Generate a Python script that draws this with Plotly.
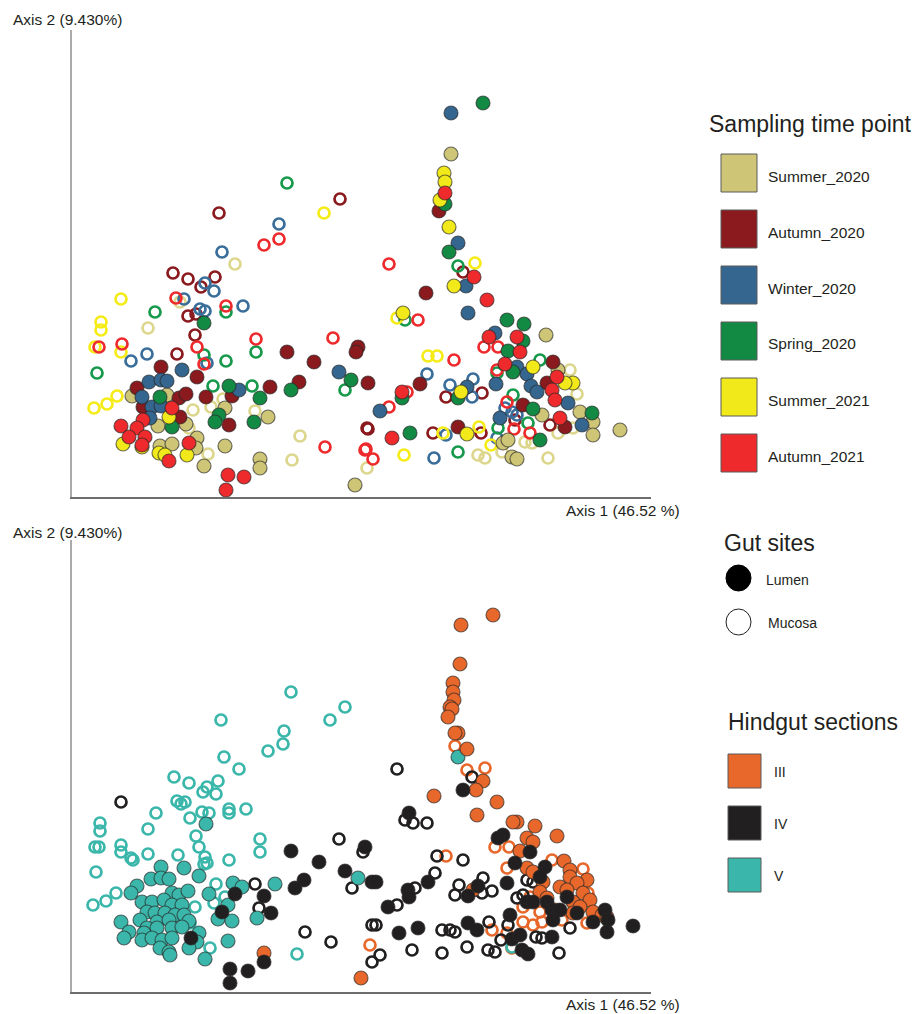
import plotly.graph_objects as go

W, H = 917, 1014

# ---------------- Data (PCoA scores, arbitrary units) ----------------
# Top panel: sampling time points; filled = Lumen, open = Mucosa
seasons = ["Summer_2020", "Autumn_2020", "Winter_2020", "Spring_2020", "Summer_2021", "Autumn_2021"]
season_colors = ["#CEC676", "#8A1A1D", "#35668F", "#128A44", "#F1E91A", "#EE2A2C"]
season_open_colors = ["#DDD78E", "#8A1A1D", "#3A6E9A", "#17994B", "#F5EB17", "#EE2A2C"]

summer2020_mucosa = [(76,169),(121,87),(139,90),(151,98),(183,86),(228,61),(136,43),(220,37),(295,29),(117,69),
                     (108,195),(163,233),(406,42),(413,39),(430,45),(453,55),(460,54),(476,39),(498,127),(505,103),
                     (486,64),(501,69)]
summer2020_lumen = [(379,343),(474,162),(486,127),(470,82),(508,85),(521,75),(521,62),(548,67),(431,54),(436,57),
                    (440,40),(445,38),(283,12),(196,80),(153,89),(60,101),(95,102),(86,71),(114,73),(88,51),
                    (100,53),(125,59),(124,49),(132,31),(153,51),(188,38),(188,29)]
autumn2020_mucosa = [(268,298),(147,284),(101,224),(116,218),(143,220),(129,210),(116,181),(124,183),(123,162),
                     (105,143),(295,69),(391,225),(374,100),(410,104),(296,68),(361,64),(409,64),(443,77),(478,72)]
autumn2020_lumen = [(215,145),(242,135),(286,150),(284,145),(296,114),(227,115),(198,110),(89,130),(125,120),
                    (65,109),(107,99),(114,103),(134,100),(160,101),(157,72),(71,90),(108,80),(367,286),(354,204),
                    (481,135),(475,114),(348,113),(451,92),(493,70),(386,70)]
winter2020_mucosa = [(207,273),(150,245),(133,214),(142,206),(112,198),(128,188),(133,186),(171,191),(75,143),
                     (59,136),(135,134),(355,123),(378,112),(401,118),(400,100),(374,62),(362,39),(433,89),(440,85),
                     (445,82),(425,59)]
winter2020_lumen = [(267,125),(110,127),(77,115),(89,117),(95,116),(70,100),(167,107),(80,90),(89,91),(78,79),
                    (379,384),(386,254),(394,211),(396,184),(423,164),(445,130),(455,123),(459,111),(465,105),
                    (496,94),(510,72),(428,79),(424,113),(308,86),(395,110)]
spring2020_mucosa = [(215,314),(83,185),(154,185),(132,142),(184,145),(154,136),(25,124),(141,111),(180,111),
                     (273,107),(386,231),(333,177),(425,124),(468,137),(441,102),(456,74),(426,69),(386,45)]
spring2020_lumen = [(132,174),(279,117),(219,107),(188,99),(182,75),(88,100),(157,111),(147,82),(143,75),(100,70),
                    (411,394),(373,293),(377,245),(452,173),(451,156),(436,146),(441,125),(461,88),(520,84),
                    (468,57),(330,99),(338,64),(386,99),(435,177)]
summer2021_mucosa = [(252,284),(49,198),(29,175),(29,167),(23,150),(49,145),(22,89),(35,93),(45,101),(403,234),
                     (325,179),(356,141),(365,141),(371,64),(407,70),(332,42),(419,52)]
summer2021_lumen = [(372,324),(373,315),(368,297),(377,270),(382,211),(331,184),(461,130),(501,114),(493,114),
                    (389,105),(395,63),(97,80),(51,53),(87,44),(93,42),(115,42),(70,50)]
autumn2021_mucosa = [(207,258),(192,252),(104,199),(154,191),(184,158),(261,159),(50,153),(27,150),(125,150),
                     (132,133),(253,50),(293,47),(317,233),(346,177),(382,137),(335,105),(317,90),(294,48),(301,38),
                     (412,150),(426,150),(425,127),(435,95),(442,68),(458,64)]
autumn2021_lumen = [(373,304),(402,220),(415,197),(417,160),(445,160),(448,145),(433,133),(485,120),(480,107),
                    (483,97),(488,79),(330,105),(320,59),(100,89),(71,77),(49,71),(65,69),(57,60),(73,60),(70,52),
                    (117,54),(97,36),(156,22),(172,20),(154,7)]

season_mucosa = [summer2020_mucosa, autumn2020_mucosa, winter2020_mucosa, spring2020_mucosa, summer2021_mucosa, autumn2021_mucosa]
season_lumen = [summer2020_lumen, autumn2020_lumen, winter2020_lumen, spring2020_lumen, summer2021_lumen, autumn2021_lumen]

# Bottom panel: hindgut sections; filled = Lumen, open = Mucosa
sections = ["III", "IV", "V"]
section_colors = ["#E8672A", "#221F20", "#3AB7AA"]

sectionV_mucosa = [(219,300),(273,285),(258,272),(149,272),(212,261),(211,248),(196,241),(152,235),(167,223),
                   (102,215),(117,209),(146,211),(135,205),(131,200),(144,198),(105,191),(113,190),(109,188),
                   (84,179),(118,174),(130,180),(137,179),(157,183),(157,179),(174,183),(28,169),(28,161),(76,163),
                   (124,156),(188,153),(188,140),(23,145),(27,145),(49,147),(49,140),(59,134),(61,132),(76,138),
                   (106,137),(127,145),(133,135),(135,129),(132,128),(157,132),(24,120),(144,108),(21,87),(34,91),
                   (44,99),(153,95),(142,89),(123,85),(118,69),(138,44),(225,38),(440,45)]
sectionV_lumen = [(134,168),(89,125),(112,124),(127,116),(79,113),(89,114),(97,113),(65,106),(59,99),(161,109),
                  (170,105),(203,108),(286,114),(100,99),(107,97),(116,101),(137,98),(70,90),(80,90),(92,92),
                  (100,87),(110,87),(156,87),(75,80),(83,79),(93,79),(103,77),(112,77),(146,73),(160,71),(185,74),
                  (49,70),(68,72),(85,70),(97,72),(117,71),(75,64),(85,64),(100,64),(110,65),(57,60),(72,59),
                  (52,54),(70,52),(80,54),(90,52),(100,54),(127,59),(125,50),(117,44),(88,44),(97,40),(98,37),
                  (156,51),(133,33),(386,235)]
sectionIV_mucosa = [(49,190),(267,153),(291,140),(183,108),(280,104),(187,84),(233,60),(259,50),(300,67),(300,30),
                    (325,223),(400,215),(333,172),(341,169),(355,169),(365,136),(391,132),(363,119),(387,107),
                    (411,114),(383,97),(410,99),(420,101),(325,87),(343,104),(455,112),(461,110),(445,94),(451,97),
                    (304,67),(370,62),(378,62),(383,60),(417,70),(436,67),(429,52),(464,55),(470,54),(498,64),
                    (340,42),(370,39),(395,45),(416,42),(423,40),(487,39),(308,37)]
sectionIV_lumen = [(219,141),(247,130),(232,112),(223,104),(273,121),(293,145),(163,98),(192,96),(199,79),(150,80),
                   (119,54),(192,30),(158,23),(176,21),(158,9),(300,110),(337,179),(391,202),(304,110),(356,110),
                   (336,102),(337,95),(316,85),(327,59),(346,64),(396,69),(405,62),(406,106),(396,96),(431,157),
                   (426,154),(458,140),(443,129),(435,109),(473,125),(468,115),(455,90),(461,90),(475,90),(480,82),
                   (488,82),(495,95),(438,77),(481,72),(505,79),(533,82),(521,70),(536,72),(535,60),(561,66),
                   (440,53),(448,57),(480,55),(450,42),(456,38)]
sectionIII_mucosa = [(298,47),(383,246),(395,222),(413,224),(423,145),(437,145),(374,136),(480,132),(435,124),
                     (511,123),(516,99),(458,95),(451,85),(468,80),(470,70),(461,67),(451,70),(490,72),(515,69),
                     (420,62),(435,59),(440,44)]
sectionIII_lumen = [(192,39),(289,14),(421,377),(389,367),(388,328),(381,309),(381,300),(382,292),(378,285),
                    (380,283),(376,275),(386,259),(383,259),(395,243),(411,211),(404,202),(362,196),(425,190),
                    (405,177),(445,170),(441,170),(463,166),(485,156),(455,154),(461,150),(448,141),(455,124),
                    (461,120),(492,131),(498,122),(498,115),(515,112),(488,105),(505,109),(495,102),(471,110),
                    (511,99),(518,92),(501,90),(508,85),(521,80),(501,79),(530,77),(535,75),(401,102),(468,100),
                    (475,94),(483,82)]

section_mucosa = [sectionIII_mucosa, sectionIV_mucosa, sectionV_mucosa]
section_lumen = [sectionIII_lumen, sectionIV_lumen, sectionV_lumen]

# ---------------- Figure ----------------
fig = go.Figure()

FILLED_SIZE = 14
OPEN_SIZE = 11
EDGE = "rgba(40,40,40,0.65)"


def add_open(pts, color, name, xa, ya):
    fig.add_trace(go.Scatter(
        x=[p[0] for p in pts], y=[p[1] for p in pts], mode="markers", name=name,
        xaxis=xa, yaxis=ya, showlegend=False, hoverinfo="skip",
        marker=dict(symbol="circle-open", size=OPEN_SIZE, color=color, line=dict(width=2.7, color=color))))


def add_filled(pts, color, name, xa, ya):
    fig.add_trace(go.Scatter(
        x=[p[0] for p in pts], y=[p[1] for p in pts], mode="markers", name=name,
        xaxis=xa, yaxis=ya, showlegend=False, hoverinfo="skip",
        marker=dict(symbol="circle", size=FILLED_SIZE, color=color, line=dict(width=1.2, color=EDGE))))


for pts, c, n in zip(season_mucosa, season_open_colors, seasons):
    add_open(pts, c, n + " Mucosa", "x", "y")
for pts, c, n in zip(season_lumen, season_colors, seasons):
    add_filled(pts, c, n + " Lumen", "x", "y")

for pts, c, n in zip(section_mucosa, section_colors, sections):
    add_open(pts, c, n + " Mucosa", "x2", "y2")
for idx in [2, 0, 1]:
    add_filled(section_lumen[idx], section_colors[idx], sections[idx] + " Lumen", "x2", "y2")


def px2x(px):
    return px / W


def px2y(py):
    return 1 - py / H


FONT = "Arial, Liberation Sans, sans-serif"

ax_common = dict(showgrid=False, zeroline=False, showticklabels=False, ticks="")
fig.update_layout(
    width=W, height=H, margin=dict(l=0, r=0, t=0, b=0),
    paper_bgcolor="white", plot_bgcolor="white", showlegend=False,
    font=dict(family=FONT, color="#231F20"),
    xaxis=dict(domain=[px2x(72), px2x(651)], range=[0, 579], showline=True, linecolor="#6d6d6d", linewidth=1.5,
               anchor="y", **ax_common),
    yaxis=dict(domain=[px2y(497), px2y(30)], range=[0, 467], showline=True, linecolor="#ababab", linewidth=1.5,
               anchor="x", **ax_common),
    xaxis2=dict(domain=[px2x(72), px2x(651)], range=[0, 579], showline=True, linecolor="#6d6d6d", linewidth=1.5,
                anchor="y2", **ax_common),
    yaxis2=dict(domain=[px2y(992), px2y(540)], range=[0, 452], showline=True, linecolor="#ababab", linewidth=1.5,
                anchor="x2", **ax_common),
)

annotations = []
shapes = []


def text(x, y, s, size, anchor="left"):
    annotations.append(dict(x=px2x(x), y=px2y(y), xref="paper", yref="paper", text=s, showarrow=False,
                            xanchor=anchor, yanchor="middle", font=dict(size=size, family=FONT, color="#231F20")))


# axis titles
text(11, 20, "Axis 2 (9.430%)", 15.5)
text(564, 510, "Axis 1 (46.52 %)", 15.5)
text(11, 532, "Axis 2 (9.430%)", 15.5)
text(564, 1004, "Axis 1 (46.52 %)", 15.5)

# Legend: sampling time point
text(707, 124, "Sampling time point", 23)
for i, (name, col) in enumerate(zip(seasons, season_colors)):
    cy = 173 + 56 * i
    shapes.append(dict(type="rect", xref="paper", yref="paper", x0=px2x(721), x1=px2x(757),
                       y0=px2y(cy + 19), y1=px2y(cy - 19), fillcolor=col, line=dict(color="#5a5a5a", width=1)))
    text(766, cy + 3, name, 15.5)

# Legend: gut sites
text(722, 543, "Gut sites", 23)
shapes.append(dict(type="circle", xref="paper", yref="paper", x0=px2x(726), x1=px2x(751),
                   y0=px2y(591), y1=px2y(565), fillcolor="#000000", line=dict(color="#000000", width=1)))
text(764, 580, "Lumen", 14)
shapes.append(dict(type="circle", xref="paper", yref="paper", x0=px2x(726), x1=px2x(751),
                   y0=px2y(635), y1=px2y(609), fillcolor="white", line=dict(color="#231F20", width=1)))
text(766, 623, "Mucosa", 14)

# Legend: hindgut sections
text(726, 722, "Hindgut sections", 23)
for i, (name, col) in enumerate(zip(sections, section_colors)):
    cy = 771 + 52 * i
    shapes.append(dict(type="rect", xref="paper", yref="paper", x0=px2x(728), x1=px2x(761),
                       y0=px2y(cy + 17), y1=px2y(cy - 17), fillcolor=col, line=dict(color="#5a5a5a", width=1)))
    text(772, cy + 1, name, 14)

fig.update_layout(annotations=annotations, shapes=shapes)

fig.write_html("out.html", config={"displayModeBar": False},
               post_script="document.body.style.margin='0px';")
